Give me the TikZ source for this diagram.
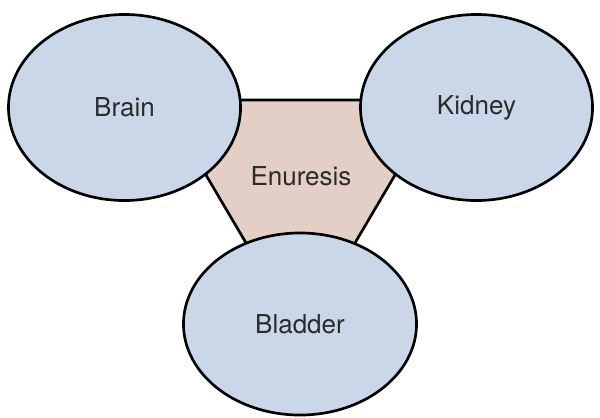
\documentclass[tikz,border=0pt]{standalone}
\usepackage{fontspec}
\setmainfont{TeX Gyre Heros}
\usetikzlibrary{shapes.geometric,positioning}

\definecolor{organblue}{HTML}{C9D7E8}
\definecolor{causepink}{HTML}{E3CFC5}
\definecolor{labelgrey}{HTML}{2B2B2B}

\tikzset{
  organ/.style={ellipse, draw=black, line width=1.9pt, fill=organblue,
    minimum width=5.8cm, minimum height=4.65cm, inner sep=0pt,
    text=labelgrey, font=\fontsize{18.5}{21}\selectfont},
  hub/.style={draw=black, line width=1.9pt, fill=causepink, line join=round},
  hubtext/.style={text=labelgrey, font=\fontsize{18.5}{21}\selectfont}
}

\begin{document}
\begin{tikzpicture}[x=0.025cm,y=-0.025cm]
    \useasboundingbox (0,0) rectangle (600,417);

    % centre
    \draw[hub] (232,100) -- (369,100) -- (395,175) -- (352,248)
        -- (249,248) -- (206,175) -- cycle;
    \node[hubtext] (enuresis) at (301,176) {Enuresis};

    % the three organs
    \node[organ] (brain) at (124.5,107.5) {Brain};
    \node[organ] (kidney) at (476.5,107.5) {Kidney};
    \node[organ, minimum width=5.825cm, minimum height=4.55cm] (bladder) at (300,324) {Bladder};
\end{tikzpicture}
\end{document}
